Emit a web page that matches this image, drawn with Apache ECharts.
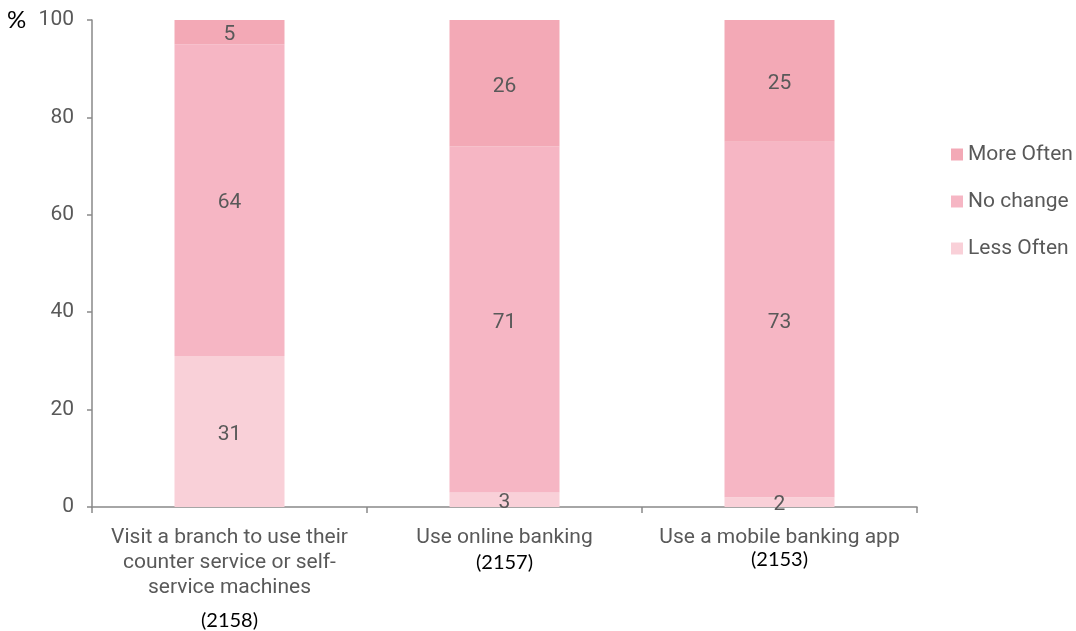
<!DOCTYPE html>
<html>
<head>
<meta charset="utf-8">
<script src="https://cdn.jsdelivr.net/npm/echarts@6/dist/echarts.min.js"></script>
<style>
  html, body { margin: 0; padding: 0; background: #fff; }
  #chart { width: 1076px; height: 631px; }
</style>
</head>
<body>
<div id="chart"></div>
<script>
// Channel usage change, % of respondents
const categories = [
  'Visit a branch to use their\ncounter service or self-\nservice machines',
  'Use online banking',
  'Use a mobile banking app'
];
const sampleSizes = ['(2158)', '(2157)', '(2153)'];
const lessOften = [31, 3, 2];
const noChange = [64, 71, 73];
const moreOften = [5, 26, 25];
const yTicks = [0, 20, 40, 60, 80, 100];

const textGrey = '#595959';
const axisGrey = '#898989';
const colors = {
  more: '#f3a9b6',
  none: '#f6b6c4',
  less: '#f9d0d8'
};

const chart = echarts.init(document.getElementById('chart'));

function seriesOf(name, values, color) {
  return {
    name: name,
    type: 'bar',
    stack: 'total',
    barWidth: '40%',
    data: values,
    itemStyle: { color: color },
    label: {
      show: true,
      position: 'inside',
      offset: [0, 3],
      color: textGrey,
      fontFamily: 'Roboto',
      fontSize: 21
    },
    emphasis: { disabled: true }
  };
}

// line height of the sample-size row under each category label
const sizeRowHeights = [41, 25, 19];
const sizeStyle = (h) => ({ fontFamily: 'Lato', fontSize: 20, color: '#000', lineHeight: h });

chart.setOption({
  animation: false,
  textStyle: { fontFamily: 'Roboto' },
  grid: { left: 92, right: 159, top: 20, bottom: 124, outerBoundsMode: 'none', containLabel: false },
  legend: {
    orient: 'vertical',
    left: 946,
    top: 139,
    itemWidth: 12,
    itemHeight: 12,
    itemGap: 26,
    icon: 'rect',
    data: ['More Often', 'No change', 'Less Often'],
    textStyle: { color: textGrey, fontSize: 21, fontFamily: 'Roboto' }
  },
  graphic: [{
    type: 'text',
    left: 7,
    top: 8,
    style: { text: '%', fill: '#000', font: '24px Lato' }
  }],
  xAxis: {
    type: 'category',
    data: categories,
    axisLine: { lineStyle: { color: axisGrey, width: 1.5 } },
    axisTick: { show: true, length: 6, alignWithLabel: false, lineStyle: { color: axisGrey, width: 1.5 } },
    axisLabel: {
      interval: 0,
      margin: 18,
      color: textGrey,
      fontSize: 21,
      lineHeight: 25,
      formatter: function (value, idx) {
        return value + '\n{n' + idx + '|' + sampleSizes[idx] + '}';
      },
      rich: {
        n0: sizeStyle(sizeRowHeights[0]),
        n1: sizeStyle(sizeRowHeights[1]),
        n2: sizeStyle(sizeRowHeights[2])
      }
    }
  },
  yAxis: {
    type: 'value',
    min: yTicks[0],
    max: yTicks[yTicks.length - 1],
    interval: yTicks[1] - yTicks[0],
    axisLine: { show: true, lineStyle: { color: axisGrey, width: 1.5 } },
    axisTick: { show: true, length: 5, lineStyle: { color: axisGrey, width: 1.5 } },
    splitLine: { show: false },
    axisLabel: { color: textGrey, fontSize: 21, margin: 18 }
  },
  series: [
    seriesOf('Less Often', lessOften, colors.less),
    seriesOf('No change', noChange, colors.none),
    seriesOf('More Often', moreOften, colors.more)
  ]
});
</script>
</body>
</html>
